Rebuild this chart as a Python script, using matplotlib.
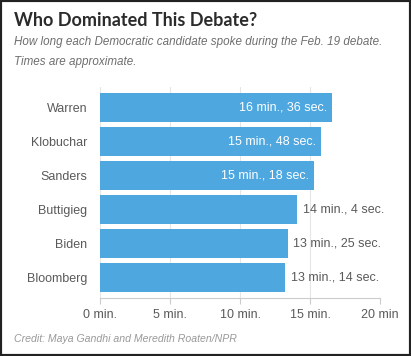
import matplotlib.pyplot as plt
from matplotlib.patches import Rectangle

# data (minutes)
names = ['Warren', 'Klobuchar', 'Sanders', 'Buttigieg', 'Biden', 'Bloomberg']
minutes = [16, 15, 15, 14, 13, 13]
seconds = [36, 48, 18, 4, 25, 14]
ticks = [0, 5, 10, 15, 20]
tick_labels = ['0 min.', '5 min.', '10 min.', '15 min.', '20 min']

totals = [m + s / 60 for m, s in zip(minutes, seconds)]
labels = [f'{m} min., {s} sec.' for m, s in zip(minutes, seconds)]

W, H = 411, 356
fig = plt.figure(figsize=(W / 100, H / 100), dpi=100)
ax = fig.add_axes([100 / W, 1 - 298 / H, 280 / W, 211 / H])

bar_color = '#4ea7de'
ypos = list(range(len(names)))[::-1]
ax.barh(ypos, totals, height=0.85, color=bar_color, zorder=2)

font = 'Liberation Sans'
for y, v, lab in zip(ypos, totals, labels):
    if v > 15:
        ax.text(v - 0.4, y, lab, ha='right', va='center', color='white',
                fontsize=9, family=font, zorder=3)
    else:
        ax.text(v + 0.4, y, lab, ha='left', va='center', color='#5a5a5a',
                fontsize=9, family=font, zorder=3)

ax.set_xlim(0, 20)
ax.set_ylim(-0.6, 5.6)
ax.set_yticks(ypos)
ax.set_yticklabels(names, family=font, fontsize=9, color='#5a5a5a')
ax.set_xticks(ticks)
ax.set_xticklabels(tick_labels, family=font, fontsize=9, color='#5a5a5a')
ax.tick_params(axis='y', length=0, pad=9)
ax.tick_params(axis='x', length=4, color='#cccccc', pad=4)
ax.grid(axis='x', color='#e6e6e6', linewidth=0.8, zorder=0)
for s in ['top', 'right', 'left']:
    ax.spines[s].set_visible(False)
ax.spines['bottom'].set_color('#cccccc')

fig.text(14 / W, 1 - 21 / H, 'Who Dominated This Debate?', fontsize=13,
         fontweight='bold', family='Lato', color='#2b2b2b', va='center')
fig.text(14 / W, 1 - 42 / H,
         'How long each Democratic candidate spoke during the Feb. 19 debate.',
         fontsize=8.35, style='italic', family=font, color='#6e6e6e', va='center')
fig.text(14 / W, 1 - 62 / H, 'Times are approximate.',
         fontsize=8.35, style='italic', family=font, color='#6e6e6e', va='center')
fig.text(14 / W, 1 - 339 / H, 'Credit: Maya Gandhi and Meredith Roaten/NPR',
         fontsize=7.6, style='italic', family=font, color='#999999', va='center')

# dark frame round the whole image
fig.patches.append(Rectangle((0, 0), 1, 1, transform=fig.transFigure,
                             fill=False, edgecolor='#222222', linewidth=3))

fig.savefig('out.png', dpi=100)
